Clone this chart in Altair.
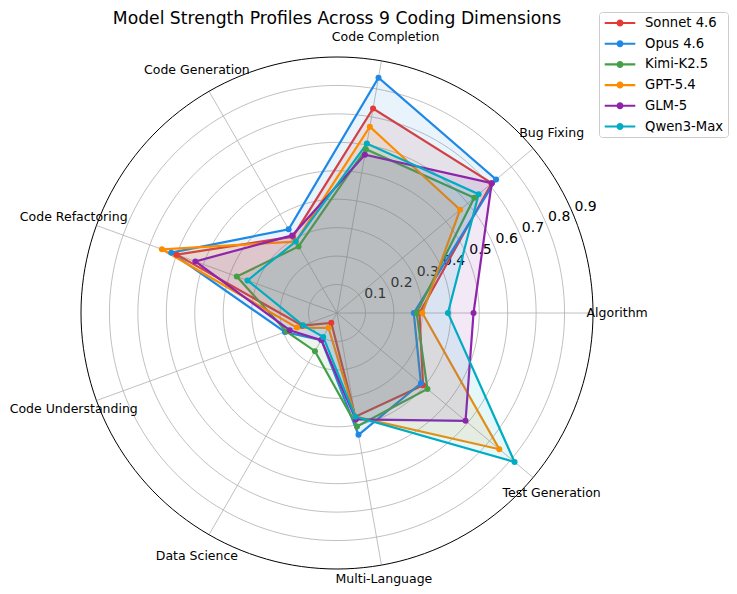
import altair as alt
import pandas as pd

dimensions = ["Algorithm", "Bug Fixing", "Code Completion", "Code Generation",
              "Code Refactoring", "Code Understanding", "Data Science",
              "Multi-Language", "Test Generation"]
models = ["Sonnet 4.6", "Opus 4.6", "Kimi-K2.5", "GPT-5.4", "GLM-5", "Qwen3-Max"]
colors = ["#e53935", "#1e88e5", "#43a047", "#fb8c00", "#8e24aa", "#00acc1"]

sonnet = [0.29, 0.71, 0.73, 0.31, 0.60, 0.13, 0.04, 0.37, 0.395]
opus = [0.27, 0.73, 0.84, 0.34, 0.62, 0.195, 0.11, 0.435, 0.385]
kimi = [0.28, 0.63, 0.585, 0.27, 0.375, 0.19, 0.155, 0.405, 0.415]
gpt = [0.30, 0.565, 0.665, 0.29, 0.655, 0.15, 0.06, 0.37, 0.745]
glm = [0.48, 0.71, 0.565, 0.315, 0.53, 0.177, 0.11, 0.38, 0.59]
qwen = [0.39, 0.65, 0.605, 0.29, 0.335, 0.127, 0.097, 0.37, 0.815]
series = [sonnet, opus, kimi, gpt, glm, qwen]

radial_ticks = [0.1, 0.2, 0.3, 0.4, 0.5, 0.6, 0.7, 0.8, 0.9]
r_max = 0.9
circle_degrees = list(range(0, 361, 2))

rows = []
for m, vals in zip(models, series):
    for i, (d, v) in enumerate(zip(dimensions, vals)):
        rows.append({"model": m, "dim": d, "idx": i, "value": v})
df = pd.DataFrame(rows)

dims_df = pd.DataFrame({"dim": dimensions, "idx": list(range(len(dimensions)))})
grid_df = pd.DataFrame([{"level": lv, "deg": dg} for lv in radial_ticks for dg in circle_degrees])
ticks_df = pd.DataFrame({"level": radial_ticks, "label": [f"{t:.1f}" for t in radial_ticks]})

xs = alt.Scale(domain=[-r_max, r_max], nice=False, zero=False)
ys = alt.Scale(domain=[-r_max, r_max], nice=False, zero=False)
cscale = alt.Scale(domain=models, range=colors)
N = len(dimensions)

grid = alt.Chart(grid_df).transform_filter("datum.level < 0.85").transform_calculate(
    gx="datum.level*cos(datum.deg*PI/180)",
    gy="datum.level*sin(datum.deg*PI/180)",
).mark_line(color="#b0b0b0", strokeWidth=0.8).encode(
    x=alt.X("gx:Q", scale=xs, axis=None),
    y=alt.Y("gy:Q", scale=ys, axis=None),
    detail="level:N",
    order="deg:Q",
)

outer = alt.Chart(grid_df).transform_filter("datum.level > 0.85").transform_calculate(
    gx="datum.level*cos(datum.deg*PI/180)",
    gy="datum.level*sin(datum.deg*PI/180)",
).mark_line(color="black", strokeWidth=1).encode(
    x=alt.X("gx:Q", scale=xs, axis=None),
    y=alt.Y("gy:Q", scale=ys, axis=None),
    detail="level:N",
    order="deg:Q",
)

spokes = alt.Chart(dims_df).transform_calculate(
    theta=f"datum.idx*2*PI/{N}",
).transform_calculate(
    x0="0", y0="0",
    x1=f"{r_max}*cos(datum.theta)", y1=f"{r_max}*sin(datum.theta)",
).mark_rule(color="#b0b0b0", strokeWidth=0.8).encode(
    x=alt.X("x0:Q", scale=xs, axis=None),
    y=alt.Y("y0:Q", scale=ys, axis=None),
    x2="x1:Q", y2="y1:Q",
)

dim_labels = alt.Chart(dims_df).transform_calculate(
    theta=f"datum.idx*2*PI/{N}",
    lr="datum.dim == 'Multi-Language' ? 0.95 : 0.985",
).transform_calculate(
    lx="datum.lr*cos(datum.theta)", ly="datum.lr*sin(datum.theta)",
).mark_text(fontSize=12.5, font="DejaVu Sans", align="center", baseline="middle", color="black").encode(
    x=alt.X("lx:Q", scale=xs, axis=None),
    y=alt.Y("ly:Q", scale=ys, axis=None),
    text="dim:N",
)

tick_labels = alt.Chart(ticks_df).transform_calculate(
    tx="datum.level*cos(PI/8)", ty="datum.level*sin(PI/8)",
).mark_text(fontSize=14, font="DejaVu Sans", align="center", baseline="middle",
            color="black", dx=12, dy=-8.5).encode(
    x=alt.X("tx:Q", scale=xs, axis=None),
    y=alt.Y("ty:Q", scale=ys, axis=None),
    text="label:N",
)

base = alt.Chart(df).transform_calculate(
    theta=f"datum.idx*2*PI/{N}",
).transform_calculate(
    px="datum.value*cos(datum.theta)", py="datum.value*sin(datum.theta)",
)

lines = base.mark_line(interpolate="linear-closed", strokeWidth=2.2, fillOpacity=0.1).encode(
    x=alt.X("px:Q", scale=xs, axis=None),
    y=alt.Y("py:Q", scale=ys, axis=None),
    color=alt.Color("model:N", scale=cscale, legend=None),
    fill=alt.Fill("model:N", scale=cscale, legend=None),
    order="idx:Q",
)

legend_path = "M-0.757,-0.15H3.614V0.15H-0.757Z M1.93,0A0.5,0.5 0 1,1 0.93,0A0.5,0.5 0 1,1 1.93,0Z"

points = base.mark_point(filled=True, size=36, opacity=1).encode(
    x=alt.X("px:Q", scale=xs, axis=None),
    y=alt.Y("py:Q", scale=ys, axis=None),
    color=alt.Color("model:N", scale=cscale, legend=alt.Legend(
        title=None, orient="none", legendX=518, legendY=-45,
        symbolType=legend_path, symbolSize=196, symbolStrokeWidth=0,
        symbolOpacity=1, labelFontSize=13.2, labelFont="DejaVu Sans",
        labelColor="black", padding=4, rowPadding=6.7, labelOffset=28,
        strokeColor="#cccccc", fillColor="white", cornerRadius=3,
    )),
)

chart = alt.layer(grid, spokes, outer, tick_labels, lines, points, dim_labels).resolve_legend(
    color="independent"
).properties(
    width=512, height=512,
    padding={"left": 73, "top": 49, "right": 136, "bottom": 17},
    autosize=alt.AutoSizeParams(type="none"),
    title=alt.TitleParams("Model Strength Profiles Across 9 Coding Dimensions",
                          fontSize=17.2, font="DejaVu Sans", fontWeight="normal",
                          frame="group", anchor="middle", offset=-16, color="black"),
).configure(font="DejaVu Sans").configure_view(strokeWidth=0)

chart.save("out.html", embed_options={"renderer": "svg", "actions": False})
